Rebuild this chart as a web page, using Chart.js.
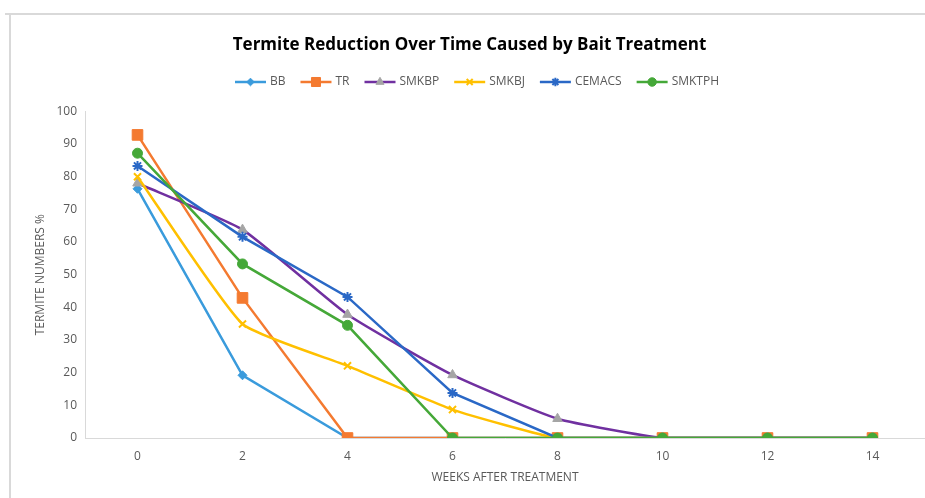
<!DOCTYPE html>
<html>
<head>
<meta charset="utf-8">
<script src="https://cdn.jsdelivr.net/npm/chart.js@4.4.0/dist/chart.umd.min.js"></script>
<style>
  html, body { margin: 0; padding: 0; background: #fff; overflow: hidden; }
  #wrap { position: relative; width: 925px; height: 498px; }
</style>
</head>
<body>
<div id="wrap"><canvas id="termiteChart"></canvas></div>
<script>
// weeks after treatment (x categories)
const weeks = ["0", "2", "4", "6", "8", "10", "12", "14"];
const seriesNames = ["BB", "TR", "SMKBP", "SMKBJ", "CEMACS", "SMKTPH"];

// termite numbers %
const bb     = [76.3, 19.2, 0, 0, 0, 0, 0, 0];
const tr     = [92.8, 42.9, 0, 0, 0, 0, 0, 0];
const smkbp  = [78.0, 63.8, 37.8, 19.3, 5.9, 0, 0, 0];
const smkbj  = [80.0, 34.9, 22.1, 8.7, 0, 0, 0, 0];
const cemacs = [83.3, 61.6, 43.2, 13.8, 0, 0, 0, 0];
const smktph = [87.2, 53.3, 34.5, 0, 0, 0, 0, 0];

const yMin = 0, yMax = 100, yStep = 10;

const lineColors   = ["#3A9BDC", "#F47A30", "#7030A0", "#FFC000", "#2A68C6", "#45A838"];
const markerFill   = ["#3A9BDC", "#F47A30", "#A5A5A5", "#FFC000", "#2A68C6", "#45A838"];
const markerStyles = ["rectRot", "rect", "triangle", "crossRot", "star", "circle"];
const markerSizes  = [4.5, 7.5, 5.5, 5, 5, 5];
const smoothed     = [false, false, true, true, false, false];

const values = [bb, tr, smkbp, smkbj, cemacs, smktph];

const textGrey = "#595959";
const axisGrey = "#d9d9d9";
const fontName = "'Open Sans'";

function isStroked(style) {
    return style == "crossRot" || style == "star";
}

function makeDatasets() {
    return seriesNames.map(function (name, i) {
        return {
            label: name,
            data: values[i],
            borderColor: lineColors[i],
            backgroundColor: markerFill[i],
            borderWidth: 2.5,
            pointStyle: markerStyles[i],
            pointRadius: markerSizes[i],
            pointHoverRadius: markerSizes[i],
            pointBackgroundColor: markerFill[i],
            pointBorderColor: markerFill[i],
            pointBorderWidth: isStroked(markerStyles[i]) ? 2 : 1,
            tension: smoothed[i] ? 0.15 : 0,
            fill: false,
            order: seriesNames.length - i   // later series on top, like Excel
        };
    });
}

// frame around the chart and an Excel style legend (line + marker keys)
const legendY = 82;
const legendCenterX = 477;
const keyWidth = 31;

const extras = {
    id: "extras",
    beforeDraw: function (chart) {
        const ctx = chart.ctx;
        ctx.save();
        ctx.strokeStyle = axisGrey;
        ctx.lineWidth = 2;
        ctx.beginPath();
        ctx.moveTo(10, 498);
        ctx.lineTo(10, 14);
        ctx.moveTo(5, 14);
        ctx.lineTo(925, 14);
        ctx.stroke();
        ctx.restore();
    },
    afterDraw: function (chart) {
        const ctx = chart.ctx;
        ctx.save();
        ctx.font = "12px " + fontName;
        ctx.textBaseline = "middle";
        ctx.textAlign = "left";
        const widths = seriesNames.map(function (n) { return ctx.measureText(n).width; });
        const textGap = 4, itemGap = 15;
        let total = 0;
        widths.forEach(function (w, i) {
            total += keyWidth + textGap + w + (i > 0 ? itemGap : 0);
        });
        let x = legendCenterX - total / 2;
        seriesNames.forEach(function (name, i) {
            ctx.strokeStyle = lineColors[i];
            ctx.lineWidth = 2.5;
            ctx.beginPath();
            ctx.moveTo(x, legendY);
            ctx.lineTo(x + keyWidth, legendY);
            ctx.stroke();
            ctx.fillStyle = markerFill[i];
            ctx.strokeStyle = markerFill[i];
            ctx.lineWidth = isStroked(markerStyles[i]) ? 2 : 1;
            Chart.helpers.drawPoint(ctx, {
                pointStyle: markerStyles[i],
                radius: markerSizes[i] * 0.85,
                rotation: 0,
                borderWidth: ctx.lineWidth
            }, x + keyWidth / 2, legendY);
            ctx.fillStyle = textGrey;
            ctx.fillText(name, x + keyWidth + textGap, legendY);
            x += keyWidth + textGap + widths[i] + itemGap;
        });
        ctx.restore();
    }
};

var ctx = document.getElementById("termiteChart").getContext("2d");
var termiteChart = new Chart(ctx, {
    type: "line",
    data: {
        labels: weeks,
        datasets: makeDatasets()
    },
    options: {
        responsive: true,
        maintainAspectRatio: false,
        animation: false,
        layout: {
            autoPadding: false,
            padding: { left: 14, top: 14, right: 0, bottom: 10 }
        },
        plugins: {
            title: {
                display: true,
                text: "Termite Reduction Over Time Caused by Bait Treatment",
                color: "#000",
                font: { family: fontName, size: 17, weight: "bold" },
                padding: { top: 21, bottom: 56 }
            },
            legend: { display: false },
            tooltip: { enabled: false }
        },
        scales: {
            x: {
                offset: true,
                grid: { display: false, drawTicks: false },
                border: { display: true, color: axisGrey, width: 1 },
                ticks: {
                    color: textGrey,
                    font: { family: fontName, size: 12 },
                    padding: 11,
                    maxRotation: 0
                },
                title: {
                    display: true,
                    text: "WEEKS AFTER TREATMENT",
                    color: textGrey,
                    font: { family: fontName, size: 12 },
                    padding: { top: 0, bottom: 3 }
                },
                afterFit: function (scale) { scale.height = 50; }
            },
            y: {
                min: yMin,
                max: yMax,
                grid: { display: false, drawTicks: false },
                border: { display: true, color: axisGrey, width: 1 },
                ticks: {
                    stepSize: yStep,
                    color: textGrey,
                    font: { family: fontName, size: 12 },
                    padding: 8
                },
                title: {
                    display: true,
                    text: "TERMITE NUMBERS %",
                    color: textGrey,
                    font: { family: fontName, size: 12 },
                    padding: { top: 19, bottom: 0 }
                },
                afterFit: function (scale) { scale.width = 71; }
            }
        }
    },
    plugins: [extras]
});
</script>
</body>
</html>
